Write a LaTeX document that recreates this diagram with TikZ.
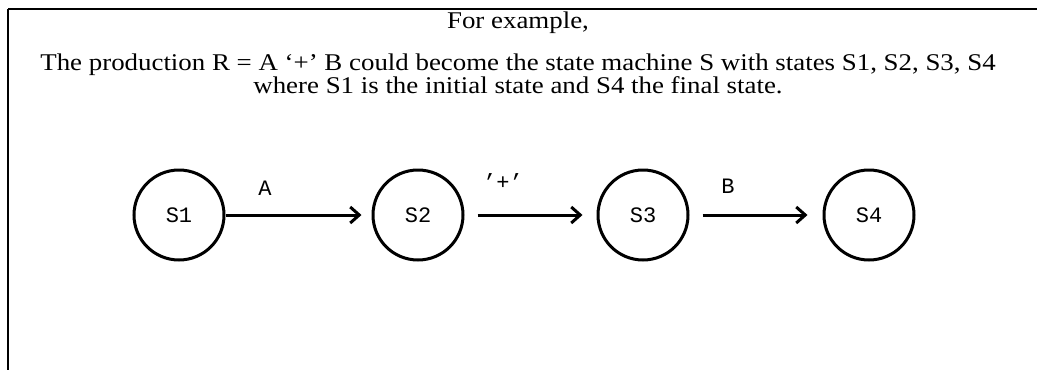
\documentclass[tikz,border=0pt]{standalone}
\usepackage{fontspec}
\setmainfont{Liberation Serif}
\newfontfamily\monofont{Liberation Mono}
\usetikzlibrary{arrows.meta}
\newcommand{\widetxt}[1]{\scalebox{1.12}[1]{#1}}
\tikzset{
  statenode/.style={circle, draw, line width=3pt, minimum size=90pt, inner sep=0pt, font=\monofont\fontsize{22}{24}\selectfont},
  trans/.style={line width=3pt, -{Straight Barb[length=9pt,width=16pt,line width=3pt]}},
  translabel/.style={font=\monofont\fontsize{22}{24}\selectfont, inner sep=0pt},
  bodytext/.style={font=\fontsize{24}{26}\selectfont, inner sep=0pt, anchor=base},
  frame/.style={line width=1.8pt}
}
\begin{document}
\begin{tikzpicture}[x=1pt,y=-1pt]
\useasboundingbox (0,0) rectangle (1037,370);
\coordinate (fc) at (8,9);
\coordinate (fr) at (1037,9);
\coordinate (fb) at (8,370);
\draw[frame, line width=2.6pt] (fc) -- (fr);
\draw[frame] (fc) -- (fb);
\node[bodytext] (title) at (518,28) {\widetxt{For example,}};
\node[bodytext] (l1) at (518,70) {\widetxt{The production R = A ‘+’ B could become the state machine S with states S1, S2, S3, S4}};
\node[bodytext] (l2) at (518,93) {\widetxt{where S1 is the initial state and S4 the final state.}};
\node[statenode] (s1) at (179,215) {S1};
\node[statenode] (s2) at (418,215) {S2};
\node[statenode] (s3) at (643,215) {S3};
\node[statenode] (s4) at (869,215) {S4};
\draw[trans, shorten >=10pt] (s1) -- (s2);
\draw[trans, shorten <=13pt, shorten >=14pt] (s2) -- (s3);
\draw[trans, shorten <=13pt, shorten >=15pt] (s3) -- (s4);
\node[translabel] (la) at (265,188) {A};
\node[translabel] (lp) at (503,182) {’+’};
\node[translabel] (lb) at (728,186) {B};
\end{tikzpicture}
\end{document}
